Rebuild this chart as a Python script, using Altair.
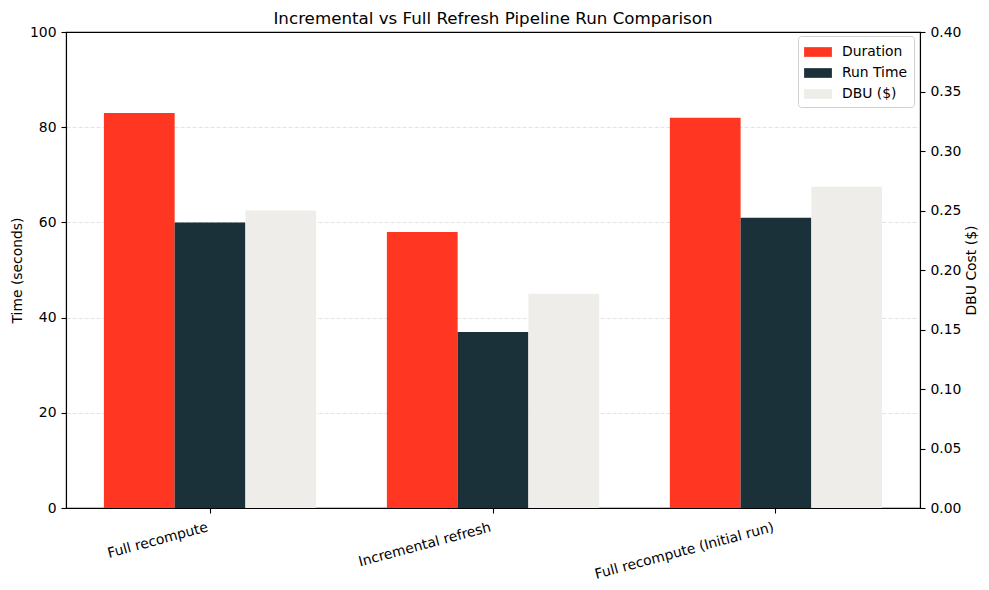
import altair as alt
import pandas as pd

categories = ["Full recompute", "Incremental refresh", "Full recompute (Initial run)"]
duration = [83, 58, 82]
run_time = [60, 37, 61]
dbu_cost = [0.25, 0.18, 0.27]
series = ["Duration", "Run Time", "DBU ($)"]
colors = ["#FF3621", "#1B3139", "#EEEDE9"]
time_ticks = [0, 20, 40, 60, 80, 100]
cost_ticks = [0.0, 0.05, 0.10, 0.15, 0.20, 0.25, 0.30, 0.35, 0.40]

rows = []
for i, c in enumerate(categories):
    rows.append({"run": c, "metric": series[0], "time": duration[i]})
    rows.append({"run": c, "metric": series[1], "time": run_time[i]})
    rows.append({"run": c, "metric": series[2], "cost": dbu_cost[i]})
df = pd.DataFrame(rows)

FONT = "DejaVu Sans"
FS = 13.9

x_enc = alt.X(
    "run:N",
    sort=categories,
    scale=alt.Scale(paddingInner=0.25, paddingOuter=0.134),
    axis=alt.Axis(
        title=None,
        labelAngle=-15,
        labelAlign="right",
        labelBaseline="top",
        labelPadding=7,
        labelOffset=-4,
        labelLimit=400,
    ),
)
xoff = alt.XOffset(
    "metric:N", sort=series,
    scale=alt.Scale(domain=series, paddingInner=0, paddingOuter=0),
)
color = alt.Color(
    "metric:N",
    scale=alt.Scale(domain=series, range=colors),
    legend=alt.Legend(
        title=None,
        orient="none",
        legendX=732,
        legendY=4,
        strokeColor="#d0d0d0",
        fillColor="white",
        padding=6,
        cornerRadius=3,
        labelFontSize=FS,
        labelFont=FONT,
        labelColor="black",
        labelOffset=14,
        symbolOffset=4,
        symbolType="M-1.39,-0.485L1.39,-0.485L1.39,0.485L-1.39,0.485Z",
        symbolSize=400,
        symbolStrokeWidth=0,
        symbolOpacity=1,
        rowPadding=4,
    ),
)

base = alt.Chart(df)

grid_op = {"condition": {"test": "datum.value > 0 && datum.value < 100", "value": 1}, "value": 0}

time_bars = base.transform_filter(
    alt.FieldOneOfPredicate(field="metric", oneOf=series[:2])
).mark_bar().encode(
    x=x_enc,
    xOffset=xoff,
    color=color,
    y=alt.Y(
        "time:Q",
        scale=alt.Scale(domain=[0, 100], nice=False),
        axis=alt.Axis(
            title="Time (seconds)",
            values=time_ticks,
            grid=True,
            gridDash=[4, 2],
            gridColor="#dcdcdc",
            gridWidth=0.8,
            gridOpacity=grid_op,
            titlePadding=5,
        ),
    ),
)

cost_bars = base.transform_filter(
    alt.FieldEqualPredicate(field="metric", equal=series[2])
).mark_bar().encode(
    x=x_enc,
    xOffset=xoff,
    color=color,
    y=alt.Y(
        "cost:Q",
        scale=alt.Scale(domain=[0, 0.4], nice=False),
        axis=alt.Axis(
            title="DBU Cost ($)",
            orient="right",
            format=".2f",
            values=cost_ticks,
            grid=False,
            titleAngle=270,
            titleBaseline="top",
            titlePadding=4,
        ),
    ),
)

chart = alt.layer(time_bars, cost_bars).resolve_scale(
    y="independent"
).properties(
    width=854,
    height=476,
    background="white",
    title=alt.TitleParams(
        "Incremental vs Full Refresh Pipeline Run Comparison",
        font=FONT,
        fontSize=16.7,
        fontWeight="normal",
        color="black",
        anchor="middle",
        offset=-3,
    ),
    autosize=alt.AutoSizeParams(type="none"),
    padding={"left": 58, "top": 24, "right": 61, "bottom": 74},
).configure_view(
    stroke="black", strokeWidth=1.1
).configure_axis(
    labelFont=FONT,
    titleFont=FONT,
    labelFontSize=FS,
    titleFontSize=FS,
    labelColor="black",
    titleColor="black",
    titleFontWeight="normal",
    tickColor="black",
    domainColor="black",
    domainWidth=1.1,
    tickWidth=1.1,
    tickSize=5,
    labelPadding=5,
)

chart.save("out.html", embed_options={"renderer": "svg", "actions": False})
